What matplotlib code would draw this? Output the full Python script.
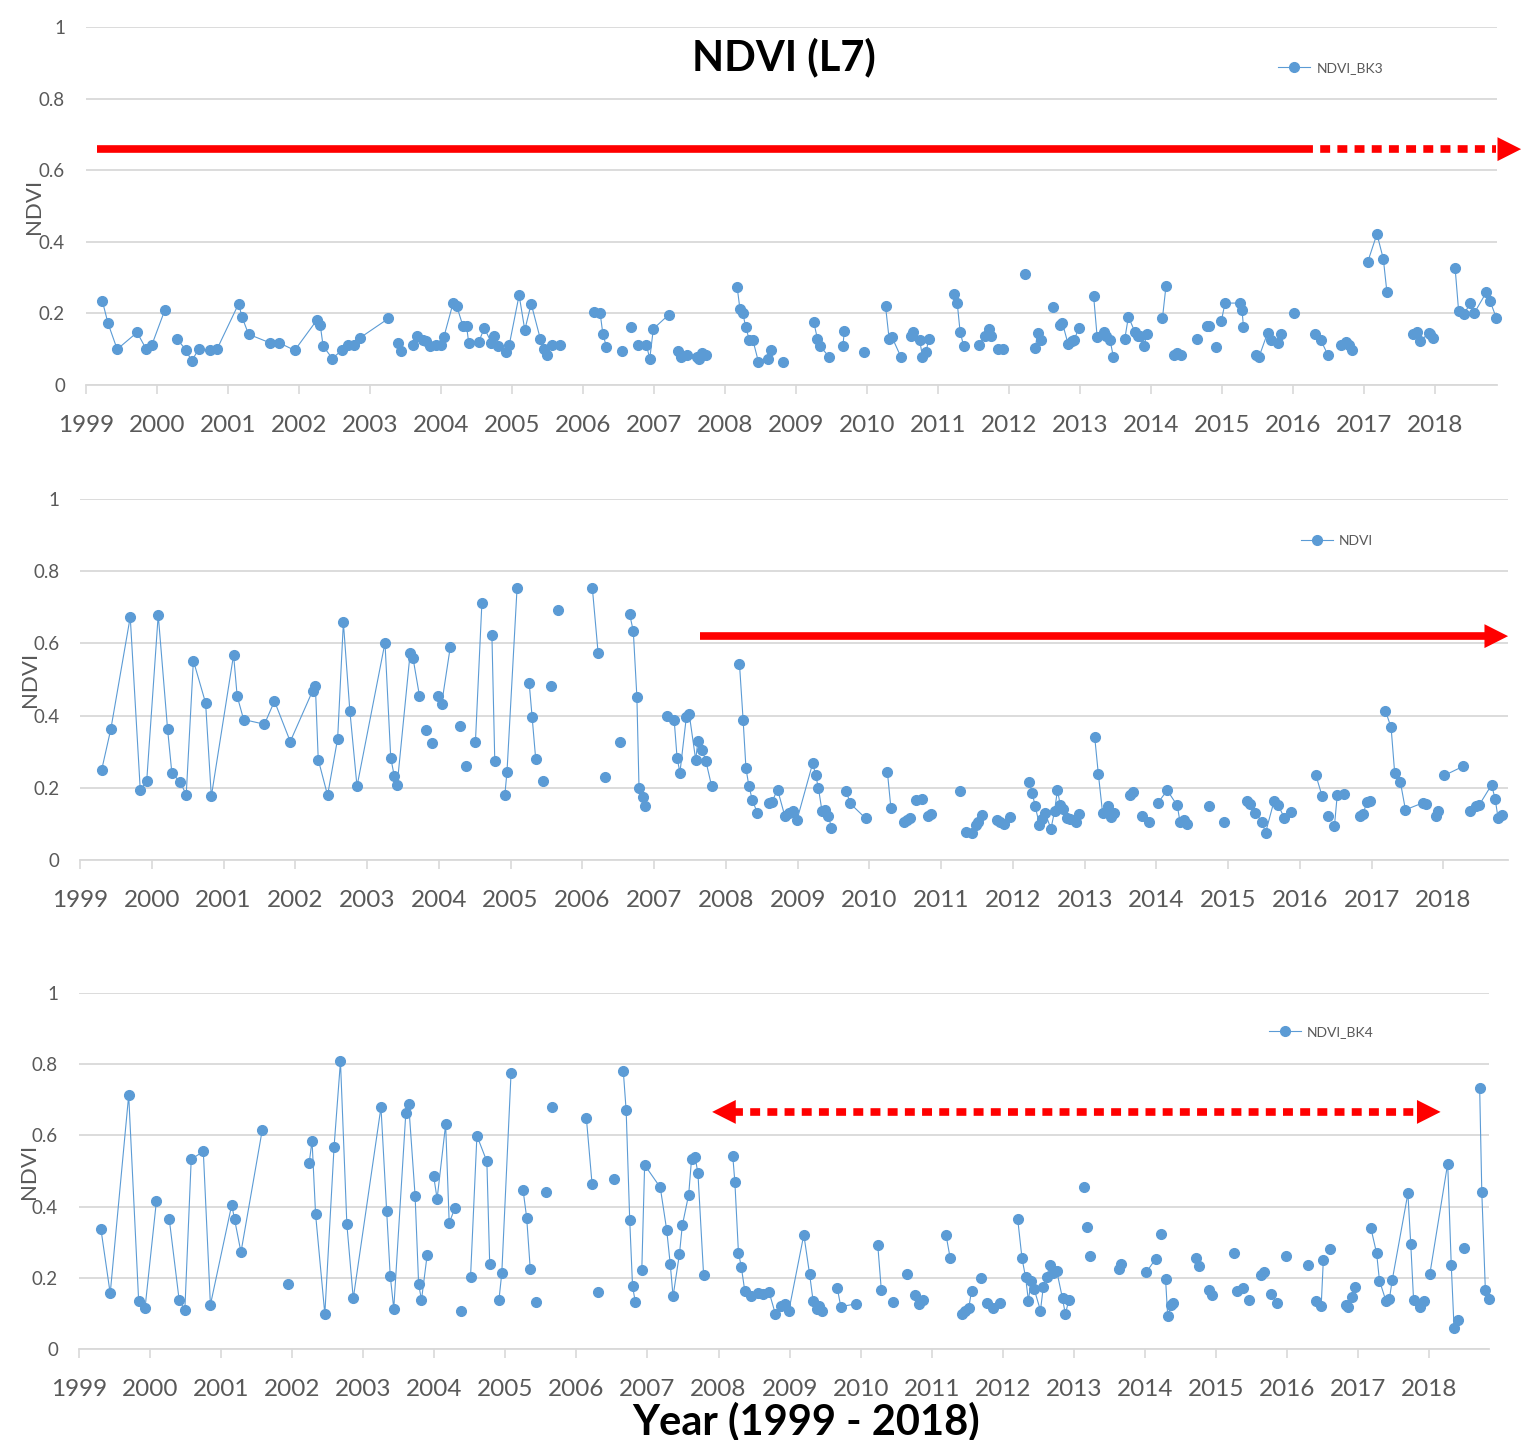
import numpy as np
import matplotlib
matplotlib.use('Agg')
import matplotlib.pyplot as plt

plt.rcParams['font.family'] = ['Lato', 'DejaVu Sans']

BLUE = '#5B9BD5'
GRID = '#D9D9D9'
TEXT = '#595959'

years = list(range(1999, 2019))
yticks = [0, 0.2, 0.4, 0.6, 0.8, 1]
ytick_labels = ['0', '0.2', '0.4', '0.6', '0.8', '1']

# None = gap in the series (line is broken there, like Excel)

# NDVI_BK3 (top)
bk3_year = [
    1999.23, 1999.31, 1999.44, 1999.72, 1999.85, 1999.93, 2000.11, None,
    2000.28, 2000.41, 2000.49, 2000.59, 2000.75, 2000.85, 2001.15, 2001.20, 2001.29, 2001.59, 2001.72,
    2001.94, 2002.25, 2002.30, 2002.34, 2002.47, 2002.60, 2002.69, 2002.77, 2002.86, 2003.26, None,
    2003.40, 2003.43, None,
    2003.61, 2003.66, 2003.74, 2003.79, 2003.84, 2003.93, 2004.00, 2004.04, 2004.17, 2004.22, 2004.31,
    2004.36, 2004.39, 2004.53, 2004.61, 2004.71, 2004.74, 2004.80, 2004.92, 2004.96, 2005.10, 2005.18,
    2005.27, 2005.40, 2005.45, 2005.49, 2005.57, 2005.68, None,
    2006.15, 2006.24, 2006.28, 2006.33, None, 2006.55, None, 2006.67, None,
    2006.78, 2006.89, 2006.94, 2006.99, 2007.21, None,
    2007.34, 2007.38, 2007.47, 2007.61, 2007.64, 2007.68, 2007.73, None,
    2008.17, 2008.21, 2008.25, 2008.29, 2008.34, 2008.39, 2008.47, None,
    2008.60, 2008.64, None, 2008.82, None,
    2009.25, 2009.30, 2009.34, 2009.47, None, 2009.66, 2009.68, None, 2009.96, None,
    2010.26, 2010.31, 2010.35, 2010.48, None,
    2010.62, 2010.65, 2010.74, 2010.78, 2010.83, 2010.87, None,
    2011.22, 2011.27, 2011.31, 2011.36, None, 2011.58, 2011.66, 2011.71, 2011.74, None,
    2011.84, 2011.92, None, 2012.23, None, 2012.37, 2012.40, 2012.45, None, 2012.62, None,
    2012.71, 2012.75, 2012.83, 2012.88, 2012.92, 2012.98, None,
    2013.19, 2013.24, 2013.33, 2013.37, 2013.42, 2013.47, None,
    2013.63, 2013.68, 2013.77, 2013.81, 2013.85, 2013.90, 2013.94, None,
    2014.16, 2014.21, None, 2014.32, 2014.37, 2014.42, None, 2014.65, None,
    2014.78, 2014.82, None, 2014.91, None,
    2014.99, 2015.04, 2015.25, 2015.28, 2015.30, None,
    2015.47, 2015.52, 2015.64, 2015.69, 2015.78, 2015.83, None, 2016.01, None,
    2016.31, 2016.39, 2016.49, None, 2016.67, 2016.75, 2016.79, 2016.83, None,
    2017.05, 2017.18, 2017.27, 2017.32, None,
    2017.69, 2017.75, 2017.79, 2017.91, 2017.93, 2017.97, None,
    2018.28, 2018.33, 2018.41, 2018.49, 2018.55, 2018.72, 2018.77, 2018.86,
]
bk3_ndvi = [
    0.236, 0.173, 0.100, 0.147, 0.100, 0.113, 0.209, None,
    0.130, 0.097, 0.067, 0.102, 0.097, 0.102, 0.227, 0.189, 0.142, 0.118, 0.118,
    0.097, 0.181, 0.167, 0.109, 0.074, 0.097, 0.113, 0.113, 0.132, 0.186, None,
    0.118, 0.095, None,
    0.113, 0.138, 0.127, 0.123, 0.109, 0.113, 0.113, 0.134, 0.229, 0.222, 0.164,
    0.165, 0.118, 0.120, 0.159, 0.118, 0.136, 0.109, 0.092, 0.111, 0.251, 0.154,
    0.227, 0.128, 0.100, 0.084, 0.113, 0.113, None,
    0.205, 0.202, 0.142, 0.107, None, 0.096, None, 0.163, None,
    0.111, 0.113, 0.074, 0.157, 0.197, None,
    0.096, 0.079, 0.084, 0.079, 0.074, 0.090, 0.084, None,
    0.274, 0.212, 0.201, 0.163, 0.127, 0.127, 0.065, None,
    0.074, 0.099, None, 0.065, None,
    0.175, 0.130, 0.109, 0.077, None, 0.110, 0.152, None, 0.092, None,
    0.220, 0.130, 0.134, 0.077, None,
    0.137, 0.149, 0.127, 0.079, 0.092, 0.130, None,
    0.255, 0.228, 0.149, 0.109, None, 0.113, 0.138, 0.157, 0.138, None,
    0.101, 0.101, None, 0.311, None, 0.104, 0.146, 0.125, None, 0.217, None,
    0.169, 0.174, 0.115, 0.123, 0.127, 0.160, None,
    0.249, 0.134, 0.148, 0.136, 0.127, 0.077, None,
    0.130, 0.191, 0.149, 0.138, 0.136, 0.110, 0.142, None,
    0.188, 0.278, None, 0.084, 0.090, 0.085, None, 0.130, None,
    0.166, 0.164, None, 0.106, None,
    0.180, 0.229, 0.229, 0.209, 0.163, None,
    0.084, 0.079, 0.146, 0.127, 0.118, 0.143, None, 0.201, None,
    0.143, 0.125, 0.084, None, 0.113, 0.121, 0.113, 0.097, None,
    0.344, 0.422, 0.352, 0.260, None,
    0.142, 0.149, 0.123, 0.145, 0.142, 0.132, None,
    0.328, 0.207, 0.199, 0.228, 0.201, 0.259, 0.236, 0.188,
]

# NDVI (middle)
ndvi_year = [
    1999.30, 1999.43, 1999.70, 1999.84, 1999.93, 2000.09, 2000.22, 2000.28, 2000.40, 2000.48,
    2000.58, 2000.75, 2000.83, 2001.14, 2001.19, 2001.28, 2001.57, 2001.71, 2001.93, 2002.24,
    2002.28, 2002.32, 2002.45, 2002.59, 2002.67, 2002.76, 2002.86, 2003.25, 2003.33, 2003.38,
    2003.42, 2003.60, 2003.64, 2003.73, None,
    2003.82, None, 2003.91, None, 2003.99, 2004.04, 2004.16, None, 2004.30, None, 2004.38, None,
    2004.51, 2004.60, None, 2004.74, 2004.78, None, 2004.92, 2004.95, 2005.09, None,
    2005.26, 2005.30, 2005.35, None, 2005.45, None, 2005.56, None, 2005.66, None,
    2006.14, 2006.22, None, 2006.32, None, 2006.53, None,
    2006.66, 2006.71, 2006.76, 2006.79, 2006.84, 2006.88, None,
    2007.18, 2007.28, 2007.32, 2007.36, 2007.45, 2007.49, 2007.58, 2007.61, 2007.67, 2007.72, 2007.80, None,
    2008.19, 2008.24, 2008.28, 2008.32, 2008.37, 2008.44, None,
    2008.60, 2008.64, 2008.72, 2008.82, 2008.88, 2008.93, 2008.99, 2009.21, 2009.25, 2009.29,
    2009.34, 2009.38, 2009.43, 2009.47, None,
    2009.68, 2009.73, 2009.95, None, 2010.25, 2010.30, None, 2010.48, 2010.52, 2010.56, None,
    2010.65, 2010.74, None, 2010.82, 2010.86, None, 2011.26, None,
    2011.35, 2011.43, 2011.48, 2011.51, 2011.57, None, 2011.78, 2011.82, 2011.87, 2011.96, None,
    2012.23, 2012.27, 2012.31, 2012.37, 2012.41, 2012.45, 2012.53, 2012.58, 2012.62, 2012.66,
    2012.70, 2012.75, 2012.80, 2012.88, 2012.92, None,
    2013.14, 2013.19, 2013.25, 2013.33, 2013.37, 2013.41, None, 2013.63, 2013.68, None,
    2013.80, 2013.89, None, 2014.02, 2014.15, 2014.29, 2014.33, 2014.39, 2014.43, None,
    2014.73, None, 2014.94, None,
    2015.26, 2015.30, 2015.38, 2015.47, 2015.52, 2015.64, 2015.70, 2015.78, 2015.87, None,
    2016.22, 2016.31, None, 2016.39, None, 2016.48, 2016.52, 2016.61, None,
    2016.83, 2016.88, 2016.93, 2016.97, None,
    2017.19, 2017.27, 2017.32, 2017.40, 2017.47, 2017.71, 2017.75, None, 2017.89, 2017.93, None,
    2018.01, 2018.27, None, 2018.37, 2018.45, 2018.50, 2018.67, 2018.72, 2018.76, 2018.81,
]
ndvi_value = [
    0.248, 0.363, 0.673, 0.193, 0.220, 0.679, 0.363, 0.241, 0.215, 0.180,
    0.552, 0.435, 0.176, 0.568, 0.454, 0.389, 0.376, 0.440, 0.328, 0.468,
    0.481, 0.278, 0.179, 0.336, 0.658, 0.414, 0.204, 0.602, 0.283, 0.232,
    0.209, 0.572, 0.560, 0.455, None,
    0.360, None, 0.324, None, 0.455, 0.433, 0.590, None, 0.372, None, 0.259, None,
    0.326, 0.711, None, 0.622, 0.273, None, 0.180, 0.244, 0.752, None,
    0.489, 0.396, 0.280, None, 0.218, None, 0.482, None, 0.692, None,
    0.752, 0.573, None, 0.230, None, 0.328, None,
    0.680, 0.634, 0.452, 0.198, 0.174, 0.149, None,
    0.399, 0.387, 0.283, 0.242, 0.397, 0.403, 0.277, 0.330, 0.304, 0.275, 0.206, None,
    0.542, 0.389, 0.254, 0.206, 0.165, 0.130, None,
    0.158, 0.160, 0.195, 0.123, 0.130, 0.137, 0.110, 0.268, 0.236, 0.199,
    0.135, 0.139, 0.123, 0.089, None,
    0.190, 0.157, 0.115, None, 0.245, 0.144, None, 0.106, 0.112, 0.117, None,
    0.167, 0.170, None, 0.121, 0.126, None, 0.191, None,
    0.077, 0.075, 0.098, 0.104, 0.125, None, 0.112, 0.104, 0.101, 0.119, None,
    0.215, 0.185, 0.149, 0.098, 0.113, 0.130, 0.086, 0.135, 0.193, 0.153,
    0.141, 0.115, 0.113, 0.104, 0.127, None,
    0.340, 0.239, 0.130, 0.149, 0.118, 0.130, None, 0.179, 0.187, None,
    0.121, 0.104, None, 0.158, 0.193, 0.151, 0.104, 0.112, 0.101, None,
    0.149, None, 0.106, None,
    0.164, 0.155, 0.130, 0.106, 0.075, 0.164, 0.151, 0.117, 0.132, None,
    0.236, 0.176, None, 0.123, None, 0.093, 0.181, 0.184, None,
    0.123, 0.127, 0.160, 0.164, None,
    0.414, 0.367, 0.241, 0.215, 0.139, 0.158, 0.155, None, 0.123, 0.137, None,
    0.234, 0.259, None, 0.137, 0.149, 0.153, 0.208, 0.169, 0.117, 0.125,
]

# NDVI_BK4 (bottom)
bk4_year = [
    1999.31, 1999.44, 1999.70, 1999.84, 1999.93, 2000.09, None,
    2000.27, 2000.41, 2000.49, 2000.58, 2000.75, 2000.85, 2001.15, 2001.19, 2001.28, 2001.58, None,
    2001.94, None,
    2002.24, 2002.28, 2002.33, 2002.46, 2002.59, 2002.68, 2002.77, 2002.86, 2003.25, 2003.33,
    2003.38, 2003.43, 2003.60, 2003.64, 2003.73, 2003.78, 2003.82, 2003.90, None,
    2003.99, 2004.04, 2004.16, 2004.21, 2004.29, None, 2004.38, None,
    2004.51, 2004.60, 2004.74, 2004.78, None, 2004.91, 2004.95, 2005.08, None,
    2005.25, 2005.30, 2005.35, None, 2005.43, None, 2005.57, None, 2005.66, None,
    2006.14, 2006.22, None, 2006.31, None, 2006.53, None,
    2006.66, 2006.70, 2006.75, 2006.79, 2006.83, None,
    2006.92, 2006.96, 2007.18, 2007.27, 2007.32, 2007.36, 2007.45, 2007.49, 2007.58, 2007.62,
    2007.67, 2007.71, 2007.79, None,
    2008.20, 2008.23, 2008.28, 2008.32, 2008.37, 2008.45, 2008.55, 2008.62, 2008.71, 2008.80,
    2008.88, 2008.93, 2008.99, 2009.20, 2009.28, 2009.33, 2009.38, 2009.42, 2009.46, None,
    2009.67, 2009.72, 2009.94, None, 2010.24, 2010.29, None, 2010.46, None, 2010.65, None,
    2010.76, 2010.82, 2010.87, None, 2011.20, 2011.26, None,
    2011.43, 2011.47, 2011.52, 2011.56, None, 2011.69, None, 2011.78, 2011.86, 2011.96, None,
    2012.21, 2012.27, 2012.32, 2012.36, 2012.40, 2012.44, 2012.53, 2012.57, 2012.62, 2012.66,
    2012.71, 2012.76, 2012.84, 2012.88, 2012.93, None,
    2013.14, None, 2013.19, None, 2013.22, None, 2013.63, 2013.67, None,
    2014.02, 2014.15, None, 2014.22, None, 2014.29, 2014.32, 2014.37, 2014.40, None,
    2014.72, 2014.76, None, 2014.90, 2014.94, None, 2015.25, None, 2015.30, 2015.38, None,
    2015.47, None, 2015.64, 2015.68, None, 2015.77, 2015.86, None, 2015.99, None,
    2016.29, None, 2016.40, 2016.48, 2016.51, None, 2016.61, None,
    2016.83, 2016.86, 2016.91, 2016.95, None,
    2017.18, 2017.26, 2017.30, 2017.39, 2017.44, 2017.48, 2017.70, 2017.74, 2017.78, None,
    2017.87, 2017.92, None, 2018.01, 2018.26, 2018.31, 2018.35, 2018.40, None, 2018.49, None,
    2018.71, 2018.74, 2018.79, 2018.84,
]
bk4_ndvi = [
    0.336, 0.156, 0.713, 0.136, 0.115, 0.415, None,
    0.366, 0.138, 0.109, 0.533, 0.555, 0.124, 0.405, 0.364, 0.272, 0.616, None,
    0.182, None,
    0.523, 0.585, 0.378, 0.098, 0.568, 0.808, 0.350, 0.142, 0.679, 0.388,
    0.206, 0.113, 0.664, 0.687, 0.431, 0.182, 0.138, 0.264, None,
    0.487, 0.422, 0.631, 0.354, 0.396, None, 0.107, None,
    0.201, 0.599, 0.527, 0.239, None, 0.138, 0.213, 0.774, None,
    0.446, 0.369, 0.226, None, 0.131, None, 0.441, None, 0.679, None,
    0.649, 0.464, None, 0.161, None, 0.477, None,
    0.780, 0.670, 0.363, 0.176, 0.131, None,
    0.221, 0.517, 0.454, 0.335, 0.239, 0.148, 0.267, 0.347, 0.434, 0.533,
    0.539, 0.494, 0.207, None,
    0.543, 0.468, 0.271, 0.231, 0.162, 0.148, 0.158, 0.155, 0.161, 0.098,
    0.122, 0.127, 0.108, 0.321, 0.212, 0.136, 0.111, 0.122, 0.108, None,
    0.172, 0.119, 0.127, None, 0.293, 0.167, None, 0.133, None, 0.212, None,
    0.153, 0.127, 0.139, None, 0.321, 0.255, None,
    0.098, 0.108, 0.114, 0.164, None, 0.200, None, 0.130, 0.114, 0.128, None,
    0.364, 0.255, 0.202, 0.136, 0.192, 0.169, 0.108, 0.175, 0.203, 0.237,
    0.213, 0.218, 0.142, 0.098, 0.138, None,
    0.455, None, 0.342, None, 0.260, None, 0.225, 0.239, None,
    0.216, 0.253, None, 0.324, None, 0.197, 0.093, 0.124, 0.130, None,
    0.256, 0.232, None, 0.166, 0.152, None, 0.269, None, 0.164, 0.172, None,
    0.138, None, 0.209, 0.216, None, 0.155, 0.128, None, 0.262, None,
    0.236, None, 0.134, 0.121, 0.249, None, 0.282, None,
    0.124, 0.117, 0.145, 0.175, None,
    0.339, 0.269, 0.192, 0.136, 0.141, 0.194, 0.437, 0.296, 0.138, None,
    0.117, 0.136, None, 0.212, 0.521, 0.237, 0.058, 0.082, None, 0.284, None,
    0.733, 0.441, 0.166, 0.141,
]

fig = plt.figure(figsize=(15.21, 14.4), dpi=100)


def draw_panel(rect, t, v, name, leg_xy, ylab_x, xmax):
    ax = fig.add_axes(rect)
    ax.plot(np.array(t, dtype=float), np.array(v, dtype=float), color=BLUE, lw=0.8,
            marker='o', ms=7, mfc=BLUE, mec=BLUE, label=name, clip_on=False)
    ax.set_xlim(1999, xmax)
    ax.set_ylim(0, 1)
    ax.set_xticks(years)
    ax.set_xticklabels([str(y) for y in years])
    ax.set_yticks(yticks)
    ax.set_yticklabels(ytick_labels)
    ax.yaxis.grid(True, color=GRID, lw=1.3)
    ax.set_axisbelow(True)
    for s in ['top', 'right', 'left']:
        ax.spines[s].set_visible(False)
    ax.spines['bottom'].set_color(GRID)
    ax.spines['bottom'].set_linewidth(1.3)
    ax.tick_params(axis='x', length=6.5, width=1.2, color=GRID, labelsize=17.5,
                   labelcolor=TEXT, pad=15)
    ax.tick_params(axis='y', length=0, labelsize=13.5, labelcolor=TEXT, pad=15)
    ax.set_ylabel('NDVI', fontsize=16, color=TEXT)
    ax.yaxis.set_label_coords(ylab_x, 0.5)
    ax.legend(loc='center left', bbox_to_anchor=leg_xy, frameon=False, fontsize=10,
              labelcolor=TEXT, borderpad=0, borderaxespad=0, handlelength=2.3,
              handletextpad=0.45, numpoints=1)
    return ax


def red_line(ax, x0, x1, y, dotted=False):
    if dotted:
        ax.plot([x0, x1], [y, y], color='red', lw=5.5, ls=(0, (1.3, 0.95)),
                dash_capstyle='butt', clip_on=False)
    else:
        ax.plot([x0, x1], [y, y], color='red', lw=5.5, solid_capstyle='butt', clip_on=False)


def red_head(ax, x_tip, y, direction=1):
    ax.annotate('', xy=(x_tip, y), xytext=(x_tip - direction * 0.6, y),
                arrowprops=dict(arrowstyle='-|>,head_length=17,head_width=8.6',
                                mutation_scale=1, lw=0, color='red',
                                shrinkA=0, shrinkB=0),
                annotation_clip=False)


ax1 = draw_panel([0.0565, 0.7326, 0.9277, 0.2486], bk3_year, bk3_ndvi, 'NDVI_BK3',
                 (0.845, 0.885), -0.0298, 2018.87)
ax2 = draw_panel([0.0526, 0.4028, 0.9389, 0.2507], ndvi_year, ndvi_value, 'NDVI',
                 (0.855, 0.884), -0.028, 2018.9)
ax3 = draw_panel([0.0519, 0.0632, 0.9270, 0.2472], bk4_year, bk4_ndvi, 'NDVI_BK4',
                 (0.844, 0.890), -0.0284, 2018.84)

# red arrows
red_line(ax1, 1999.155, 2016.14, 0.659)
red_line(ax1, 2016.14, 2018.85, 0.659, dotted=True)
red_head(ax1, 2019.21, 0.659)

red_line(ax2, 2007.64, 2018.6, 0.62)
red_head(ax2, 2018.9, 0.62)

red_line(ax3, 2008.2, 2017.85, 0.666, dotted=True)
red_head(ax3, 2007.91, 0.666, direction=-1)
red_head(ax3, 2018.16, 0.666)

fig.text(783.5 / 1521, 1 - 70 / 1440, 'NDVI (L7)', ha='center', va='baseline',
         fontsize=30, fontweight='bold', color='black')
fig.text(806.5 / 1521, 1 - 1434 / 1440, 'Year (1999 - 2018)', ha='center', va='baseline',
         fontsize=30, fontweight='bold', color='black')

fig.savefig('out.png', dpi=100)
